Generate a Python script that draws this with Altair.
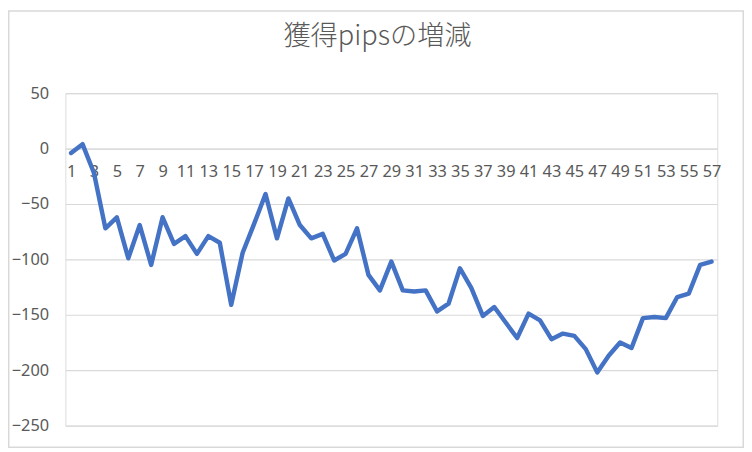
import altair as alt
import pandas as pd

days = list(range(1, 58))
pips = [-4, 4, -22, -72, -62, -99, -69, -105, -62, -86, -79, -95, -79, -85, -141,
        -94, -68, -41, -81, -45, -69, -81, -77, -101, -95, -72, -114, -128, -102,
        -128, -129, -128, -147, -140, -108, -126, -151, -143, -157, -171, -149,
        -155, -172, -167, -169, -181, -202, -187, -175, -180, -153, -152, -153,
        -134, -131, -105, -102]
x_ticks = list(range(1, 58, 2))
y_ticks = [50, 0, -50, -100, -150, -200, -250]

df = pd.DataFrame({"day": days, "pips": pips})

W, H = 659, 336
GRAY = "#595959"
GRID = "#d9d9d9"

xscale = alt.Scale(domain=[0.5, 57.5], nice=False, zero=False)
yscale = alt.Scale(domain=[-250, 50], nice=False)

line = alt.Chart(df).mark_line(
    color="#4472C4", strokeWidth=4.5, strokeJoin="round", strokeCap="round"
).encode(
    x=alt.X("day:Q", scale=xscale,
            axis=alt.Axis(values=x_ticks, title=None, grid=False, ticks=False,
                          domain=True, domainColor=GRID, domainWidth=1,
                          labelFont="Noto Sans", labelFontSize=16.5, labelColor=GRAY,
                          labelPadding=15, labelOverlap=False, labelFlush=False,
                          offset=-(H - 56), format="d")),
    y=alt.Y("pips:Q", scale=yscale,
            axis=alt.Axis(values=y_ticks, title=None, grid=True, gridColor=GRID,
                          gridWidth=1.2, ticks=False, domain=False,
                          labelFont="Noto Sans", labelFontSize=16.5, labelColor=GRAY,
                          labelPadding=17, format="d")),
)

border = alt.Chart(pd.DataFrame({"k": [0]})).mark_rect(
    fill=None, stroke=GRID, strokeWidth=1.5
).encode(
    x=alt.value(-57.25), x2=alt.value(685.25),
    y=alt.value(-83), y2=alt.value(358)
)

chart = alt.layer(border, line).properties(
    width=W, height=H,
    title=alt.TitleParams(
        "獲得pipsの増減", font="Noto Sans CJK JP", fontSize=27.5, fontWeight=300,
        color=GRAY, anchor="middle", dx=-14, offset=-69, baseline="bottom"
    ),
    autosize=alt.AutoSizeParams(type="none"),
    padding={"left": 58, "top": 83.7, "right": 27, "bottom": 24.3},
).configure_view(stroke=None).configure(background="white")

chart.save("out.html", embed_options={"renderer": "svg", "actions": False})
